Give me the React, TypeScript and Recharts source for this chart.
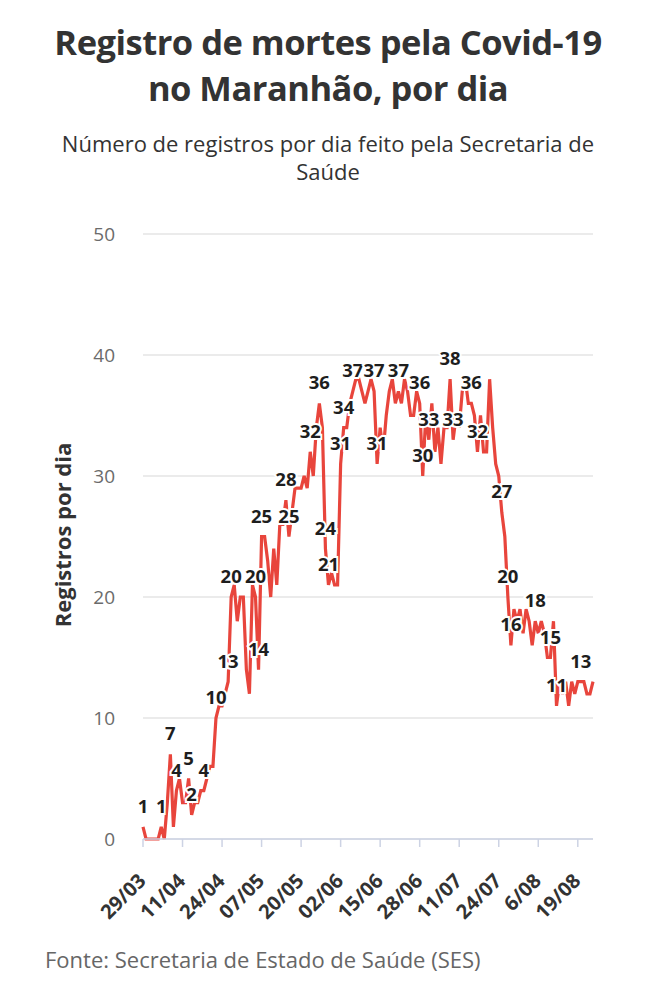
import React from "react";
import { LineChart, Line, XAxis, YAxis, CartesianGrid, LabelList } from "recharts";

// registros diários, 29/03 a 24/08
const VALUES = [
  1, 0, 0, 0, 0, 0, 1, 0, 3, 7, 1, 4, 5, 3, 3, 5, 2, 3, 3, 4,
  4, 5, 6, 6, 10, 11, 11, 12, 13, 20, 21, 18, 20, 20, 14, 12, 21, 20, 14, 25,
  25, 23, 20, 24, 21, 26, 26, 28, 25, 27, 29, 29, 29, 30, 29, 32, 30, 34, 36, 34,
  24, 21, 22, 21, 21, 31, 34, 34, 36, 37, 38, 38, 37, 36, 37, 38, 37, 31, 34, 32,
  35, 37, 38, 36, 37, 36, 38, 37, 35, 35, 37, 36, 30, 35, 33, 36, 32, 34, 31, 34,
  34, 38, 33, 35, 34, 37, 38, 36, 36, 35, 32, 35, 32, 32, 38, 34, 31, 30, 27, 25,
  20, 16, 19, 18, 19, 17, 19, 18, 16, 18, 17, 18, 17, 15, 15, 18, 11, 13, 12, 13,
  11, 13, 12, 13, 13, 13, 12, 12, 13,
];

// pontos com rótulo
const LABELED = [
  0, 6, 9, 11, 15, 16, 20, 24, 28, 29, 37, 38, 39, 47, 48, 55, 58, 60, 61, 65,
  66, 69, 76, 77, 84, 91, 92, 94, 101, 102, 108, 110, 118, 120, 121, 129, 134, 136, 144,
];

const TICK_LABELS = [
  "29/03", "11/04", "24/04", "07/05", "20/05", "02/06",
  "15/06", "28/06", "11/07", "24/07", "6/08", "19/08",
];

const Y_TICKS = [0, 10, 20, 30, 40, 50];

const FONT = "'Open Sans', 'Noto Sans', sans-serif";

const DATES: string[] = VALUES.map((_, i) => {
  const d = new Date(2020, 2, 29 + i);
  return String(d.getDate()).padStart(2, "0") + "/" + String(d.getMonth() + 1).padStart(2, "0");
});

const data = VALUES.map((v, i) => ({
  date: DATES[i],
  value: v,
  label: LABELED.includes(i) ? v : null,
}));

const XTick = (props: any) => {
  const { x, y, payload } = props;
  const idx = DATES.indexOf(payload.value);
  const text = idx % 13 === 0 ? TICK_LABELS[idx / 13] : payload.value;
  return (
    <g transform={`translate(${x - 3},${y + 26}) rotate(-45)`}>
      <text
        x={0}
        y={0}
        dy={10}
        textAnchor="end"
        fill="#333"
        fontSize={20}
        fontWeight={700}
        fontFamily={FONT}
      >
        {text}
      </text>
    </g>
  );
};

const PointLabel = (props: any) => {
  const { x, y, value } = props;
  if (value == null) return null;
  return (
    <text
      x={x}
      y={y - 14}
      textAnchor="middle"
      fill="#1e1e1e"
      stroke="#fff"
      strokeWidth={4}
      paintOrder="stroke"
      fontSize={18.5}
      fontWeight={700}
      fontFamily={FONT}
    >
      {value}
    </text>
  );
};

export default function App() {
  return (
    <div
      style={{
        position: "absolute",
        left: 0,
        top: 0,
        width: 656,
        height: 1000,
        background: "#fff",
        fontFamily: FONT,
        overflow: "hidden",
      }}
    >
      <div
        style={{
          position: "absolute",
          top: 19,
          left: 0,
          width: 656,
          textAlign: "center",
          fontSize: 34.5,
          fontWeight: 700,
          lineHeight: "46px",
          color: "#333",
          letterSpacing: -0.5,
        }}
      >
        Registro de mortes pela Covid-19
        <br />
        no Maranhão, por dia
      </div>
      <div
        style={{
          position: "absolute",
          top: 129,
          left: 0,
          width: 656,
          textAlign: "center",
          fontSize: 22,
          lineHeight: "28px",
          color: "#333",
        }}
      >
        Número de registros por dia feito pela Secretaria de
        <br />
        Saúde
      </div>

      <div style={{ position: "absolute", left: 0, top: 0 }}>
        <LineChart
          width={656}
          height={1000}
          data={data}
          margin={{ top: 234, right: 63, bottom: 101, left: 83 }}
        >
          <CartesianGrid vertical={false} stroke="#e4e4e4" strokeWidth={1.5} />
          <XAxis
            dataKey="date"
            interval={12}
            height={60}
            tick={<XTick />}
            tickSize={8}
            axisLine={{ stroke: "#cdd3e4", strokeWidth: 1.5 }}
            tickLine={{ stroke: "#cdd3e4", strokeWidth: 1.5 }}
          />
          <YAxis
            domain={[0, 50]}
            ticks={Y_TICKS}
            width={60}
            axisLine={false}
            tickLine={false}
            tickSize={0}
            tickMargin={28}
            tick={{ fill: "#6b6b6b", fontSize: 19, fontFamily: FONT }}
          />
          <Line
            type="linear"
            dataKey="value"
            stroke="#e8453c"
            strokeWidth={3.2}
            dot={false}
            isAnimationActive={false}
          >
            <LabelList dataKey="label" content={<PointLabel />} />
          </Line>
        </LineChart>
      </div>

      <div
        style={{
          position: "absolute",
          left: 62,
          top: 535,
          transform: "translate(-50%, -50%) rotate(-90deg)",
          whiteSpace: "nowrap",
          fontSize: 22,
          fontWeight: 700,
          color: "#333",
        }}
      >
        Registros por dia
      </div>

      <div
        style={{
          position: "absolute",
          left: 45,
          top: 944,
          fontSize: 22,
          color: "#666",
          whiteSpace: "nowrap",
        }}
      >
        Fonte: Secretaria de Estado de Saúde (SES)
      </div>
    </div>
  );
}
